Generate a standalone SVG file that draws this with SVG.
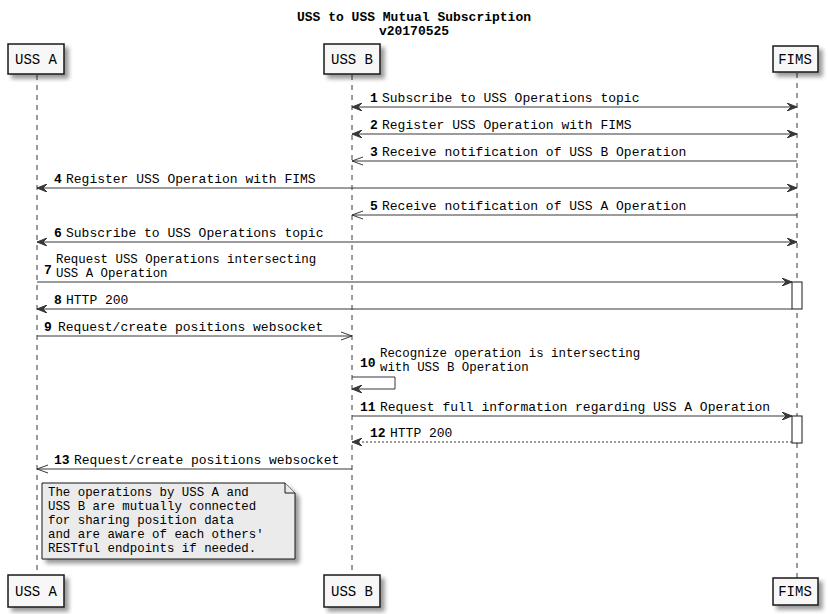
<svg xmlns="http://www.w3.org/2000/svg" width="828" height="614" viewBox="0 0 828 614">
<style>
text{font-family:"Liberation Mono","DejaVu Sans Mono",monospace;font-size:13px;fill:#000}
.title{font-weight:bold;text-anchor:middle}
.num{font-weight:bold}
.ml{font-size:12.4px}
.pbox{fill:#f7f7f7;stroke:#181818;stroke-width:1.5}
.pt{text-anchor:middle;font-size:14px}
.life{stroke:#383838;stroke-width:1;stroke-dasharray:5,5}
.msg{stroke:#383838;stroke-width:1;fill:none}
.dot{stroke-dasharray:2,2}
.act{fill:#ffffff;stroke:#181818;stroke-width:1}
.note{fill:#ebebeb;stroke:#181818;stroke-width:1}
</style>
<defs>
<filter id="sh" x="-20%" y="-20%" width="150%" height="160%">
<feGaussianBlur in="SourceAlpha" stdDeviation="2"/>
<feOffset dx="4" dy="4" result="b"/>
<feComponentTransfer><feFuncA type="linear" slope="0.4"/></feComponentTransfer>
<feMerge><feMergeNode/><feMergeNode in="SourceGraphic"/></feMerge>
</filter>
<marker id="af" viewBox="0 0 10 8" refX="10" refY="4" markerWidth="10" markerHeight="8" markerUnits="userSpaceOnUse" orient="auto-start-reverse">
<path d="M0,0 L10,4 L0,8 L4,4 Z" fill="#383838" stroke="#383838" stroke-width="1"/>
</marker>
<marker id="ao" viewBox="0 0 12 10" refX="11" refY="5" markerWidth="12" markerHeight="10" markerUnits="userSpaceOnUse" orient="auto-start-reverse">
<path d="M0,1 L11,5 L0,9" fill="none" stroke="#383838" stroke-width="1"/>
</marker>
</defs>
<rect width="828" height="614" fill="#ffffff"/>
<g id="title">
<text class="title" x="414" y="21">USS to USS Mutual Subscription</text>
<text class="title" x="414" y="35">v20170525</text>
</g>
<g id="lifelines">
<line class="life" x1="37" y1="75" x2="37" y2="575"/>
<line class="life" x1="352" y1="75" x2="352" y2="575"/>
<line class="life" x1="797" y1="73" x2="797" y2="578"/>
</g>
<g id="activations">
<rect class="act" x="792" y="282" width="10" height="27"/>
<rect class="act" x="792" y="416" width="10" height="27"/>
</g>
<g id="connectors">
<line class="msg" x1="352" y1="107" x2="797" y2="107" marker-start="url(#af)" marker-end="url(#af)"/>
<line class="msg" x1="352" y1="134" x2="797" y2="134" marker-start="url(#af)" marker-end="url(#af)"/>
<line class="msg" x1="797" y1="161" x2="352" y2="161" marker-end="url(#ao)"/>
<line class="msg" x1="37" y1="188" x2="797" y2="188" marker-start="url(#af)" marker-end="url(#af)"/>
<line class="msg" x1="797" y1="215" x2="352" y2="215" marker-end="url(#ao)"/>
<line class="msg" x1="37" y1="242" x2="797" y2="242" marker-start="url(#af)" marker-end="url(#af)"/>
<line class="msg" x1="37" y1="282" x2="792" y2="282" marker-end="url(#af)"/>
<line class="msg" x1="792" y1="309" x2="37" y2="309" marker-end="url(#af)"/>
<line class="msg" x1="37" y1="336" x2="352" y2="336" marker-end="url(#ao)"/>
<polyline class="msg" points="352,377 395,377 395,389 352,389" marker-end="url(#af)"/>
<line class="msg" x1="352" y1="416" x2="792" y2="416" marker-end="url(#af)"/>
<line class="msg dot" x1="792" y1="442" x2="352" y2="442" marker-end="url(#af)"/>
<line class="msg" x1="352" y1="469" x2="37" y2="469" marker-end="url(#ao)"/>
</g>
<g id="labels">
<text class="num" x="370" y="102">1</text><text x="382" y="102">Subscribe to USS Operations topic</text>
<text class="num" x="370" y="129">2</text><text x="382" y="129">Register USS Operation with FIMS</text>
<text class="num" x="370" y="156">3</text><text x="382" y="156">Receive notification of USS B Operation</text>
<text class="num" x="54" y="183">4</text><text x="66" y="183">Register USS Operation with FIMS</text>
<text class="num" x="370" y="210">5</text><text x="382" y="210">Receive notification of USS A Operation</text>
<text class="num" x="54" y="237">6</text><text x="66" y="237">Subscribe to USS Operations topic</text>
<text class="num" x="44" y="274">7</text><text class="ml" x="56" y="263">Request USS Operations intersecting<tspan x="56" dy="14">USS A Operation</tspan></text>
<text class="num" x="54" y="304">8</text><text x="66" y="304">HTTP 200</text>
<text class="num" x="44" y="331">9</text><text x="58" y="331">Request/create positions websocket</text>
<text class="num" x="360" y="367">10</text><text class="ml" x="380" y="357">Recognize operation is intersecting<tspan x="380" dy="14">with USS B Operation</tspan></text>
<text class="num" x="360" y="411">11</text><text x="380" y="411">Request full information regarding USS A Operation</text>
<text class="num" x="370" y="437">12</text><text x="390" y="437">HTTP 200</text>
<text class="num" x="54" y="464">13</text><text x="74" y="464">Request/create positions websocket</text>
</g>
<g id="note">
<path class="note" filter="url(#sh)" d="M42,483 L285,483 L295,493 L295,559 L42,559 Z"/>
<path class="note" d="M285,483 L285,493 L295,493"/>
<text class="ml" x="48" y="496">The operations by USS A and<tspan x="48" dy="14">USS B are mutually connected</tspan><tspan x="48" dy="14">for sharing position data</tspan><tspan x="48" dy="14">and are aware of each others'</tspan><tspan x="48" dy="14">RESTful endpoints if needed.</tspan></text>
</g>
<g id="p-ussa-top"><rect class="pbox" filter="url(#sh)" x="8" y="44" width="56" height="30"/><text class="pt" x="36" y="64">USS A</text></g>
<g id="p-ussb-top"><rect class="pbox" filter="url(#sh)" x="324" y="44" width="56" height="30"/><text class="pt" x="352" y="64">USS B</text></g>
<g id="p-fims-top"><rect class="pbox" filter="url(#sh)" x="773" y="46" width="45" height="26"/><text class="pt" x="795" y="64">FIMS</text></g>
<g id="p-ussa-bot"><rect class="pbox" filter="url(#sh)" x="8" y="575" width="56" height="32"/><text class="pt" x="36" y="596">USS A</text></g>
<g id="p-ussb-bot"><rect class="pbox" filter="url(#sh)" x="324" y="575" width="56" height="32"/><text class="pt" x="352" y="596">USS B</text></g>
<g id="p-fims-bot"><rect class="pbox" filter="url(#sh)" x="773" y="578" width="45" height="27"/><text class="pt" x="795" y="596">FIMS</text></g>
</svg>
